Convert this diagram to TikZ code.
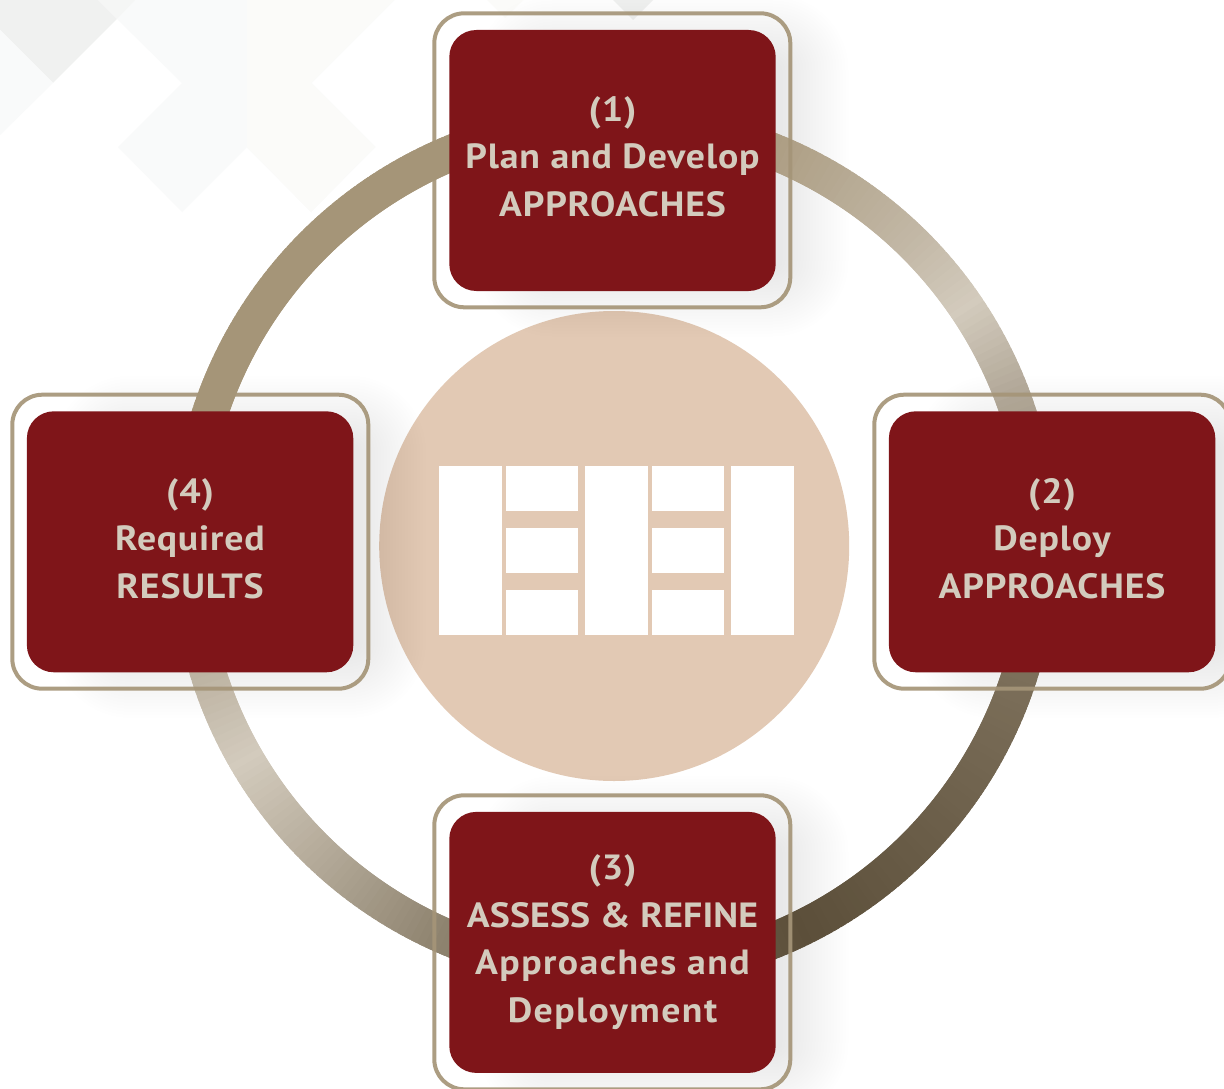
\documentclass[tikz,border=0pt]{standalone}
\usepackage{fontspec}
\setmainfont{PT Sans}
\usetikzlibrary{calc}
\definecolor{boxred}{HTML}{7F1519}
\definecolor{frametan}{HTML}{A59578}
\definecolor{txt}{HTML}{D3CBBD}
\definecolor{disc}{HTML}{E2C9B4}
\definecolor{ringA}{HTML}{A59578}
\definecolor{ringB}{HTML}{C2B7A5}
\definecolor{ringC}{HTML}{D3CBBD}
\definecolor{ringD}{HTML}{AFA595}
\definecolor{ringE}{HTML}{7D705B}
\definecolor{ringF}{HTML}{5C4F3A}
\definecolor{ringG}{HTML}{8E836F}
\definecolor{ringH}{HTML}{B5AB9A}
\definecolor{ringI}{HTML}{BBB1A0}
\definecolor{tileA}{HTML}{F0F1F0}
\definecolor{tileB}{HTML}{F9FAFA}
\definecolor{tileC}{HTML}{FBFBF9}
\definecolor{tileD}{HTML}{F5F6F5}
\newfontfamily\lblfont{PT Sans}[LetterSpace=2.5,FakeStretch=1.08]
\newfontfamily\lblnarrow{PT Sans}[LetterSpace=0.4,FakeStretch=1.08]
\newfontfamily\lblwide{PT Sans}[LetterSpace=4.1,FakeStretch=1.08]
\tikzset{
  x=1pt,y=-1pt,
  redbox/.style={fill=boxred,draw=none,rounded corners=27pt,minimum width=326.4pt,minimum height=261pt,inner sep=0pt},
  outerbox/.style={draw=frametan,draw opacity=.92,line width=4pt,rounded corners=30pt,fill=none,minimum width=356pt,minimum height=294pt,inner sep=0pt},
  lbl/.style={text=txt,align=center,inner sep=0pt,font=\lblfont\bfseries\fontsize{35}{47.6}\selectfont},
  tile/.style={fill=white,draw=none},
}
\newcommand{\softshadow}[2]{%
  \foreach \g in {0,3,...,66}{%
    \pgfmathsetmacro\rr{\g+10}%
    \fill[black,opacity=.0048,rounded corners=\rr pt]
      ({#1+50-120-\g},{#2+5-105-\g}) rectangle ({#1+50+120+\g},{#2+5+105+\g});
  }%
}
\begin{document}
\begin{tikzpicture}
\useasboundingbox (0,0) rectangle (1224,1089);
\fill[white] (0,0) rectangle (1224,1089);
\begin{scope}
\clip (0,0) rectangle (1224,1089);
% background tiles
\fill[tileB]
  (135,0) -- (117,19) -- (182,83) -- (118,147) -- (182,212) -- (247,147) -- (311,212)
  -- (375,147) -- (311,83) -- (394,0) -- cycle;
\fill[tileC] (247,0) -- (247,147) -- (311,212) -- (375,147) -- (311,83) -- (394,0) -- cycle;
\fill[tileA] (98,0) -- (117,19) -- (53,83) -- (0,30) -- (0,0) -- cycle;
\fill[tileB] (0,30) -- (53,83) -- (0,135) -- cycle;
\fill[tileD] (98,0) -- (135,0) -- (117,19) -- cycle;
\fill[tileC] (487,0) -- (523,0) -- (505,18) -- cycle;
\fill[tileA] (613,0) -- (653,0) -- (633,20) -- cycle;
% centre disc
\fill[disc] (614.2,546) circle[radius=235];
% shadows
\softshadow{612.5}{160.5}
\softshadow{1052}{541.8}
\softshadow{612.5}{942.3}
\softshadow{190}{541.8}
% ring
\foreach \s/\e/\ca/\cb in {
   -80/15/ringA/ringA, 15/45/ringA/ringB, 45/57/ringB/ringC, 57/71/ringC/ringD,
   71/107/ringD/ringE, 107/155/ringE/ringF, 155/205/ringF/ringG, 205/225/ringG/ringH,
   225/241/ringH/ringC, 241/255/ringC/ringI, 255/280/ringI/ringA}{%
  \pgfmathtruncatemacro\n{\e-\s}%
  \foreach \i in {1,...,\n}{%
    \pgfmathsetmacro\pct{100*\i/\n}%
    \pgfmathsetmacro\aa{\s+\i-1.6}%
    \pgfmathsetmacro\ab{\s+\i+.3}%
    \draw[line width=36pt,color=\cb!\pct!\ca]
      ({614.2+425.5*sin(\aa)},{546-425.5*cos(\aa)}) -- ({614.2+425.5*sin(\ab)},{546-425.5*cos(\ab)});
  }%
}
% frames and boxes
\node[outerbox] (f1) at (612.3,160.3) {};
\node[outerbox] (f2) at (1052.3,541.7) {};
\node[outerbox] (f3) at (612.3,942.3) {};
\node[outerbox] (f4) at (190.3,541.7) {};
\node[redbox] (b1) at (612.5,160.5) {};
\node[redbox] (b2) at (1052.1,541.8) {};
\node[redbox] (b3) at (612.5,942.4) {};
\node[redbox] (b4) at (190.1,541.8) {};
\node[lbl] (t1) at (612.5,156.4) {(1)\\Plan and Develop\\APPROACHES};
\node[lbl] (t2) at (1052,538.4) {(2)\\Deploy\\APPROACHES};
\node[lbl] (t3) at (612.5,942) {(3)\\{\lblnarrow\bfseries ASSESS \& REFINE}\\{\lblwide\bfseries Approaches and}\\{\lblwide\bfseries Deployment}};
\node[lbl] (t4) at (190,538.4) {(4)\\Required\\RESULTS};
% centre icon
\fill[tile] (439,466) rectangle (502,635);
\fill[tile] (506,466) rectangle (578,511);
\fill[tile] (506,528) rectangle (578,573);
\fill[tile] (506,590) rectangle (578,635);
\fill[tile] (585,466) rectangle (648,635);
\fill[tile] (652,466) rectangle (724,511);
\fill[tile] (652,528) rectangle (724,573);
\fill[tile] (652,590) rectangle (724,635);
\fill[tile] (731,466) rectangle (794,635);
\end{scope}
\end{tikzpicture}
\end{document}
